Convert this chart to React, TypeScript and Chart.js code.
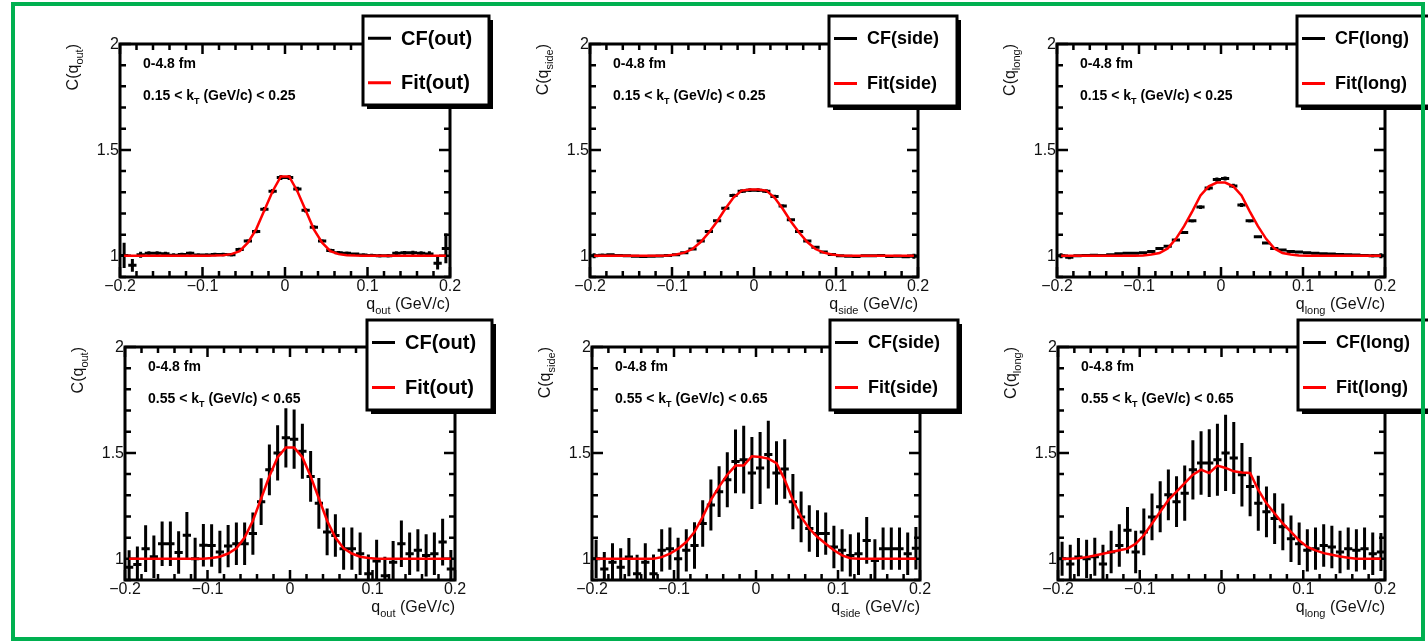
import React, { useEffect, useRef } from "react";
import { Chart, registerables } from "chart.js";

Chart.register(...registerables);

const W = 1428;
const H = 643;
const FONT = "'Liberation Sans', Arial, Helvetica, sans-serif";

// ---------------- data ----------------
const binCenters = [
  -0.195, -0.185, -0.175, -0.165, -0.155, -0.145, -0.135, -0.125, -0.115, -0.105,
  -0.095, -0.085, -0.075, -0.065, -0.055, -0.045, -0.035, -0.025, -0.015, -0.005,
  0.005, 0.015, 0.025, 0.035, 0.045, 0.055, 0.065, 0.075, 0.085, 0.095,
  0.105, 0.115, 0.125, 0.135, 0.145, 0.155, 0.165, 0.175, 0.185, 0.195,
];
const binHalfWidth = 0.005;

// out, 0.15 < kT < 0.25
const cfOutLow = [
  1.002, 0.955, 1.005, 1.012, 1.012, 1.01, 1.003, 1.006, 1.012, 1.004,
  1.004, 1.006, 1.006, 1.005, 1.03, 1.07, 1.115, 1.22, 1.305, 1.37,
  1.37, 1.315, 1.215, 1.135, 1.07, 1.025, 1.015, 1.012, 1.008, 1.004,
  1.002, 1.0, 1.0, 1.012, 1.014, 1.014, 1.012, 1.008, 0.965, 1.035,
];
const errOutLow = [
  0.06, 0.03, 0.014, 0.01, 0.01, 0.009, 0.009, 0.008, 0.008, 0.008,
  0.008, 0.008, 0.008, 0.008, 0.008, 0.008, 0.009, 0.01, 0.011, 0.012,
  0.012, 0.011, 0.01, 0.009, 0.008, 0.008, 0.008, 0.008, 0.008, 0.008,
  0.008, 0.008, 0.008, 0.009, 0.009, 0.01, 0.01, 0.014, 0.03, 0.07,
];
const fitOutLow = [
  1.0, 1.0, 1.0, 1.0, 1.0, 1.0, 1.0, 1.0, 1.0, 1.0,
  1.0, 1.001, 1.003, 1.008, 1.022, 1.062, 1.125, 1.215, 1.305, 1.375,
  1.375, 1.305, 1.215, 1.125, 1.062, 1.022, 1.008, 1.003, 1.001, 1.0,
  1.0, 1.0, 1.0, 1.0, 1.0, 1.0, 1.0, 1.0, 1.0, 1.0,
];

// side, 0.15 < kT < 0.25
const cfSideLow = [
  1.0, 1.003, 1.005, 1.002, 1.0, 0.998, 0.997, 0.998, 0.999, 1.002,
  1.005, 1.014, 1.032, 1.07, 1.115, 1.165, 1.225, 1.285, 1.305, 1.31,
  1.31, 1.305, 1.28, 1.235, 1.17, 1.115, 1.07, 1.04, 1.018, 1.006,
  1.0, 0.998, 0.997, 1.0, 1.0, 1.002, 0.997, 0.998, 0.996, 0.998,
];
const errSideLow = [
  0.012, 0.008, 0.007, 0.006, 0.006, 0.006, 0.006, 0.006, 0.006, 0.006,
  0.006, 0.006, 0.006, 0.007, 0.007, 0.007, 0.008, 0.008, 0.009, 0.009,
  0.009, 0.009, 0.008, 0.008, 0.007, 0.007, 0.007, 0.006, 0.006, 0.006,
  0.006, 0.006, 0.006, 0.006, 0.006, 0.006, 0.006, 0.007, 0.008, 0.012,
];
const fitSideLow = [
  1.0, 1.0, 1.0, 1.0, 1.0, 1.0, 1.0, 1.0, 1.0, 1.002,
  1.006, 1.015, 1.032, 1.065, 1.11, 1.162, 1.222, 1.275, 1.308, 1.313,
  1.313, 1.308, 1.275, 1.222, 1.162, 1.11, 1.065, 1.032, 1.015, 1.006,
  1.002, 1.0, 1.0, 1.0, 1.0, 1.0, 1.0, 1.0, 1.0, 1.0,
];

// long, 0.15 < kT < 0.25
const cfLongLow = [
  1.0, 0.993, 1.0, 1.002, 1.003, 1.002, 1.005, 1.01, 1.012, 1.012,
  1.015, 1.02, 1.035, 1.045, 1.075, 1.11, 1.165, 1.23, 1.32, 1.36,
  1.365, 1.33, 1.24, 1.165, 1.09, 1.06, 1.035, 1.027, 1.02, 1.018,
  1.015, 1.012, 1.01, 1.008, 1.006, 1.005, 1.004, 1.002, 1.0, 1.0,
];
const errLongLow = [
  0.012, 0.009, 0.007, 0.006, 0.006, 0.006, 0.006, 0.006, 0.006, 0.006,
  0.006, 0.006, 0.006, 0.007, 0.007, 0.007, 0.008, 0.009, 0.01, 0.01,
  0.01, 0.01, 0.009, 0.008, 0.007, 0.007, 0.007, 0.006, 0.006, 0.006,
  0.006, 0.006, 0.006, 0.006, 0.006, 0.006, 0.006, 0.007, 0.008, 0.012,
];
const fitLongLow = [
  1.0, 1.0, 1.0, 1.0, 1.0, 1.0, 1.0, 1.0, 1.0, 1.0,
  1.002, 1.006, 1.013, 1.035, 1.08, 1.14, 1.21, 1.285, 1.328, 1.346,
  1.346, 1.328, 1.285, 1.21, 1.14, 1.08, 1.035, 1.013, 1.006, 1.002,
  1.0, 1.0, 1.0, 1.0, 1.0, 1.0, 1.0, 1.0, 1.0, 1.0,
];

// out, 0.55 < kT < 0.65
const cfOutHigh = [
  0.96, 0.973, 1.048, 1.01, 1.071, 1.071, 1.03, 1.111, 1.0, 1.064,
  1.063, 1.032, 1.06, 1.071, 1.071, 1.119, 1.27, 1.42, 1.5, 1.571,
  1.565, 1.508, 1.389, 1.262, 1.127, 1.11, 1.048, 1.048, 1.024, 0.93,
  0.99, 0.92, 0.984, 1.071, 1.024, 1.04, 1.016, 1.024, 1.079, 0.952,
];
const errOutHigh = [
  0.08, 0.085, 0.11, 0.1, 0.105, 0.105, 0.1, 0.11, 0.1, 0.1,
  0.1, 0.1, 0.1, 0.1, 0.1, 0.1, 0.11, 0.12, 0.13, 0.14,
  0.14, 0.13, 0.12, 0.12, 0.11, 0.1, 0.1, 0.1, 0.1, 0.09,
  0.1, 0.09, 0.1, 0.11, 0.1, 0.1, 0.1, 0.1, 0.11, 0.09,
];
const fitOutHigh = [
  1.0, 1.0, 1.0, 1.0, 1.0, 1.0, 1.0, 1.0, 1.0, 1.0,
  1.004, 1.01, 1.025, 1.05, 1.1, 1.18, 1.285, 1.39, 1.48, 1.525,
  1.525, 1.48, 1.39, 1.285, 1.18, 1.1, 1.05, 1.025, 1.01, 1.004,
  1.0, 1.0, 1.0, 1.0, 1.0, 1.0, 1.0, 1.0, 1.0, 1.0,
];

// side, 0.55 < kT < 0.65
const cfSideHigh = [
  1.0, 0.952, 0.984, 0.96, 1.008, 0.929, 0.984, 0.93, 1.04, 1.048,
  1.0, 1.04, 1.063, 1.167, 1.254, 1.317, 1.373, 1.46, 1.468, 1.405,
  1.429, 1.492, 1.405, 1.424, 1.27, 1.198, 1.143, 1.119, 1.119, 1.056,
  1.04, 1.016, 1.024, 1.087, 0.992, 1.048, 1.048, 1.048, 1.024, 1.05,
];
const errSideHigh = [
  0.09, 0.08, 0.09, 0.09, 0.09, 0.09, 0.09, 0.09, 0.1, 0.1,
  0.1, 0.1, 0.11, 0.11, 0.12, 0.12, 0.13, 0.15, 0.16, 0.17,
  0.17, 0.16, 0.15, 0.14, 0.13, 0.12, 0.11, 0.11, 0.1, 0.1,
  0.1, 0.1, 0.1, 0.11, 0.1, 0.1, 0.1, 0.1, 0.1, 0.1,
];
const fitSideHigh = [
  1.0, 1.0, 1.0, 1.0, 1.0, 1.0, 1.0, 1.0, 1.008, 1.024,
  1.048, 1.079, 1.127, 1.198, 1.278, 1.341, 1.397, 1.44, 1.44, 1.484,
  1.481, 1.473, 1.452, 1.373, 1.278, 1.198, 1.143, 1.103, 1.071, 1.04,
  1.016, 1.003, 1.0, 1.0, 1.0, 1.0, 1.0, 1.0, 1.0, 1.0,
];

// long, 0.55 < kT < 0.65
const cfLongHigh = [
  1.0, 0.976, 1.008, 1.0, 1.01, 0.976, 1.032, 1.063, 1.135, 1.032,
  1.127, 1.198, 1.246, 1.302, 1.27, 1.31, 1.42, 1.452, 1.452, 1.468,
  1.5, 1.476, 1.397, 1.341, 1.262, 1.222, 1.19, 1.151, 1.095, 1.071,
  1.04, 1.048, 1.063, 1.056, 1.032, 1.048, 1.04, 1.048, 1.024, 1.032,
];
const errLongHigh = [
  0.08, 0.09, 0.09, 0.09, 0.09, 0.09, 0.1, 0.1, 0.11, 0.1,
  0.11, 0.11, 0.12, 0.12, 0.12, 0.13, 0.14, 0.15, 0.16, 0.17,
  0.18, 0.17, 0.15, 0.14, 0.13, 0.12, 0.12, 0.11, 0.11, 0.1,
  0.1, 0.1, 0.1, 0.1, 0.1, 0.1, 0.1, 0.1, 0.1, 0.09,
];
const fitLongHigh = [
  1.0, 1.0, 1.003, 1.008, 1.016, 1.024, 1.032, 1.04, 1.048, 1.071,
  1.111, 1.167, 1.222, 1.278, 1.317, 1.357, 1.397, 1.421, 1.405, 1.44,
  1.429, 1.413, 1.408, 1.405, 1.325, 1.262, 1.214, 1.167, 1.127, 1.087,
  1.056, 1.04, 1.027, 1.019, 1.011, 1.005, 1.0, 1.0, 1.0, 1.0,
];

const xTickValues = [-0.2, -0.1, 0, 0.1, 0.2];
const xTickLabels = ["\u22120.2", "\u22120.1", "0", "0.1", "0.2"];
const yTickValues = [1, 1.5, 2];
const yTickLabels = ["1", "1.5", "2"];
const xMin = -0.2;
const xMax = 0.2;
const yMin = 0.9;
const yMax = 2.0;
const xMinorStep = 0.02;
const yMinorStep = 0.1;
const centralityText = "0-4.8 fm";
const ktLow = ["0.15", "0.25"];
const ktHigh = ["0.55", "0.65"];

// ---------------- layout ----------------
type Panel = {
  dir: string;
  kt: string[];
  cf: number[];
  err: number[];
  fit: number[];
  frame: number[]; // l, t, r, b
  legend: number[]; // l, t, r, b
  legendFont: number;
};

const panels: Panel[] = [
  { dir: "out", kt: ktLow, cf: cfOutLow, err: errOutLow, fit: fitOutLow, frame: [120, 44, 450, 277], legend: [363, 16, 489, 105], legendFont: 20 },
  { dir: "side", kt: ktLow, cf: cfSideLow, err: errSideLow, fit: fitSideLow, frame: [590, 44, 918, 277], legend: [829, 16, 957, 106], legendFont: 18 },
  { dir: "long", kt: ktLow, cf: cfLongLow, err: errLongLow, fit: fitLongLow, frame: [1057, 44, 1385, 277], legend: [1297, 16, 1434, 106], legendFont: 18 },
  { dir: "out", kt: ktHigh, cf: cfOutHigh, err: errOutHigh, fit: fitOutHigh, frame: [125, 347, 455, 580], legend: [367, 320, 492, 410], legendFont: 20 },
  { dir: "side", kt: ktHigh, cf: cfSideHigh, err: errSideHigh, fit: fitSideHigh, frame: [592, 347, 920, 580], legend: [830, 320, 958, 410], legendFont: 18 },
  { dir: "long", kt: ktHigh, cf: cfLongHigh, err: errLongHigh, fit: fitLongHigh, frame: [1058, 347, 1385, 580], legend: [1298, 320, 1434, 410], legendFont: 18 },
];

type Part = { t: string; sub?: boolean };

function drawParts(
  ctx: CanvasRenderingContext2D,
  parts: Part[],
  x: number,
  y: number,
  size: number,
  subSize: number,
  subDy: number,
  weight: string,
  align: "left" | "right"
) {
  const fnt = (s: number) => `${weight} ${s}px ${FONT}`;
  let total = 0;
  const widths = parts.map((p) => {
    ctx.font = fnt(p.sub ? subSize : size);
    const w = ctx.measureText(p.t).width;
    total += w;
    return w;
  });
  let cx = align === "right" ? x - total : x;
  ctx.textAlign = "left";
  ctx.textBaseline = "alphabetic";
  parts.forEach((p, i) => {
    ctx.font = fnt(p.sub ? subSize : size);
    ctx.fillText(p.t, cx, p.sub ? y + subDy : y);
    cx += widths[i];
  });
}

function makePlugin(panel: Panel) {
  return {
    id: "rootStyle",
    beforeDatasetsDraw(chart: any) {
      const ctx: CanvasRenderingContext2D = chart.ctx;
      const { left, top, right, bottom } = chart.chartArea;
      const xs = chart.scales.x;
      const ys = chart.scales.y;
      ctx.save();
      // tick labels, placed through the chart's own scales
      ctx.fillStyle = "#111";
      ctx.font = `16px ${FONT}`;
      ctx.textAlign = "center";
      ctx.textBaseline = "middle";
      xs.ticks.forEach((tk: any, i: number) => {
        ctx.fillText(xTickLabels[i], xs.getPixelForValue(tk.value), bottom + 10);
      });
      ctx.textAlign = "right";
      ys.ticks.forEach((tk: any, i: number) => {
        ctx.fillText(yTickLabels[i], left - 1, ys.getPixelForValue(tk.value) + 1);
      });
      // frame
      ctx.strokeStyle = "#000";
      ctx.lineWidth = 3;
      ctx.strokeRect(left, top, right - left, bottom - top);
      ctx.lineWidth = 2.5;
      ctx.beginPath();
      const nx = Math.round((xMax - xMin) / xMinorStep);
      for (let i = 0; i <= nx; i++) {
        const v = xMin + i * xMinorStep;
        const major = xTickValues.some((m) => Math.abs(m - v) < 1e-6);
        const len = major ? 10 : 6;
        const px = xs.getPixelForValue(v);
        ctx.moveTo(px, bottom);
        ctx.lineTo(px, bottom - len);
        ctx.moveTo(px, top);
        ctx.lineTo(px, top + len);
      }
      const ny = Math.round((yMax - yMin) / yMinorStep);
      for (let i = 0; i <= ny; i++) {
        const v = yMin + i * yMinorStep;
        const major = yTickValues.some((m) => Math.abs(m - v) < 1e-6);
        const len = major ? 11 : 6;
        const py = ys.getPixelForValue(v);
        ctx.moveTo(left, py);
        ctx.lineTo(left + len, py);
        ctx.moveTo(right, py);
        ctx.lineTo(right - len, py);
      }
      ctx.stroke();
      ctx.restore();
    },
    afterDatasetDraw(chart: any, args: any) {
      const ds = chart.data.datasets[args.index];
      if (!ds.errY) return;
      const ctx: CanvasRenderingContext2D = chart.ctx;
      const { left, top, right, bottom } = chart.chartArea;
      const xs = chart.scales.x;
      const ys = chart.scales.y;
      ctx.save();
      ctx.beginPath();
      ctx.rect(left, top, right - left, bottom - top);
      ctx.clip();
      ctx.strokeStyle = "#000";
      ctx.lineWidth = 3;
      ctx.beginPath();
      ds.data.forEach((p: any, i: number) => {
        const e = ds.errY[i];
        const x0 = xs.getPixelForValue(p.x - binHalfWidth);
        const x1 = xs.getPixelForValue(p.x + binHalfWidth);
        const xc = xs.getPixelForValue(p.x);
        const yc = ys.getPixelForValue(p.y);
        const ya = ys.getPixelForValue(p.y + e);
        const yb = ys.getPixelForValue(p.y - e);
        ctx.moveTo(x0, yc);
        ctx.lineTo(x1, yc);
        ctx.moveTo(xc, ya);
        ctx.lineTo(xc, yb);
      });
      ctx.stroke();
      ctx.restore();
    },
    afterDraw(chart: any) {
      const ctx: CanvasRenderingContext2D = chart.ctx;
      const { left, top, right, bottom } = chart.chartArea;
      ctx.save();
      ctx.fillStyle = "#000";
      // annotations
      ctx.font = `bold 14px ${FONT}`;
      ctx.textAlign = "left";
      ctx.textBaseline = "alphabetic";
      ctx.fillText(centralityText, left + 23, top + 24);
      drawParts(
        ctx,
        [
          { t: `${panel.kt[0]} < k` },
          { t: "T", sub: true },
          { t: ` (GeV/c) < ${panel.kt[1]}` },
        ],
        left + 23,
        top + 56,
        14,
        9,
        4,
        "bold",
        "left"
      );
      // x title
      ctx.fillStyle = "#111";
      drawParts(
        ctx,
        [{ t: "q" }, { t: panel.dir, sub: true }, { t: " (GeV/c)" }],
        right,
        bottom + 32,
        16,
        11,
        5,
        "normal",
        "right"
      );
      // y title (rotated)
      ctx.save();
      ctx.translate(left - 48, top);
      ctx.rotate(-Math.PI / 2);
      drawParts(
        ctx,
        [{ t: "C(q" }, { t: panel.dir, sub: true }, { t: ")" }],
        0,
        6,
        16,
        11,
        5,
        "normal",
        "right"
      );
      ctx.restore();
      // legend box
      const [l, t, r, b] = panel.legend;
      ctx.fillStyle = "#000";
      ctx.fillRect(l + 4, t + 4, r - l, b - t);
      ctx.fillStyle = "#fff";
      ctx.fillRect(l, t, r - l, b - t);
      ctx.strokeStyle = "#000";
      ctx.lineWidth = 3;
      ctx.strokeRect(l, t, r - l, b - t);
      const h = b - t;
      const rows = [t + h / 4, t + (3 * h) / 4];
      chart.data.datasets.forEach((ds: any, i: number) => {
        const yy = rows[i];
        ctx.strokeStyle = ds.legendColor;
        ctx.lineWidth = 3;
        ctx.beginPath();
        ctx.moveTo(l + 5, yy);
        ctx.lineTo(l + 28, yy);
        ctx.stroke();
        ctx.fillStyle = "#000";
        ctx.font = `bold ${panel.legendFont}px ${FONT}`;
        ctx.textAlign = "left";
        ctx.textBaseline = "middle";
        ctx.fillText(ds.label, l + 38, yy + 1);
      });
      ctx.restore();
    },
  };
}

function buildConfig(panel: Panel): any {
  const [fl, ft, fr, fb] = panel.frame;
  return {
    type: "line",
    data: {
      datasets: [
        {
          label: `CF(${panel.dir})`,
          data: binCenters.map((x, i) => ({ x, y: panel.cf[i] })),
          errY: panel.err,
          legendColor: "#000",
          showLine: false,
          pointRadius: 0,
          borderColor: "#000",
          order: 2,
        },
        {
          label: `Fit(${panel.dir})`,
          data: binCenters.map((x, i) => ({ x, y: panel.fit[i] })),
          legendColor: "#ff0000",
          showLine: true,
          pointRadius: 0,
          borderColor: "#ff0000",
          borderWidth: 2.5,
          tension: 0,
          fill: false,
          order: 1,
        },
      ],
    },
    options: {
      responsive: false,
      maintainAspectRatio: false,
      animation: false,
      devicePixelRatio: 1,
      events: [],
      layout: { padding: { left: fl, top: ft, right: W - fr, bottom: H - fb } },
      plugins: { legend: { display: false }, tooltip: { enabled: false } },
      scales: {
        x: {
          type: "linear",
          min: xMin,
          max: xMax,
          grid: { display: false, drawTicks: false },
          border: { display: false },
          ticks: { display: false },
          afterBuildTicks: (s: any) => {
            s.ticks = xTickValues.map((v) => ({ value: v }));
          },
          afterFit: (s: any) => {
            s.height = 0;
          },
        },
        y: {
          type: "linear",
          min: yMin,
          max: yMax,
          grid: { display: false, drawTicks: false },
          border: { display: false },
          ticks: { display: false },
          afterBuildTicks: (s: any) => {
            s.ticks = yTickValues.map((v) => ({ value: v }));
          },
          afterFit: (s: any) => {
            s.width = 0;
          },
        },
      },
    },
    plugins: [makePlugin(panel)],
  };
}

export default function App() {
  const refs = useRef<(HTMLCanvasElement | null)[]>([]);
  useEffect(() => {
    const charts = panels.map((p, i) => new Chart(refs.current[i] as HTMLCanvasElement, buildConfig(p)));
    return () => {
      charts.forEach((c) => c.destroy());
    };
  }, []);
  return (
    <div
      style={{
        position: "fixed",
        left: 0,
        top: 0,
        width: W,
        height: H,
        background: "#fff",
        overflow: "hidden",
      }}
    >
      {panels.map((_p, i) => (
        <canvas
          key={i}
          ref={(el) => {
            refs.current[i] = el;
          }}
          width={W}
          height={H}
          style={{ position: "absolute", left: 0, top: 0, width: W, height: H }}
        />
      ))}
      <div
        style={{
          position: "absolute",
          left: 11,
          top: 2,
          width: 1414,
          height: 639,
          border: "4px solid #00b050",
          boxSizing: "border-box",
          pointerEvents: "none",
        }}
      />
    </div>
  );
}
